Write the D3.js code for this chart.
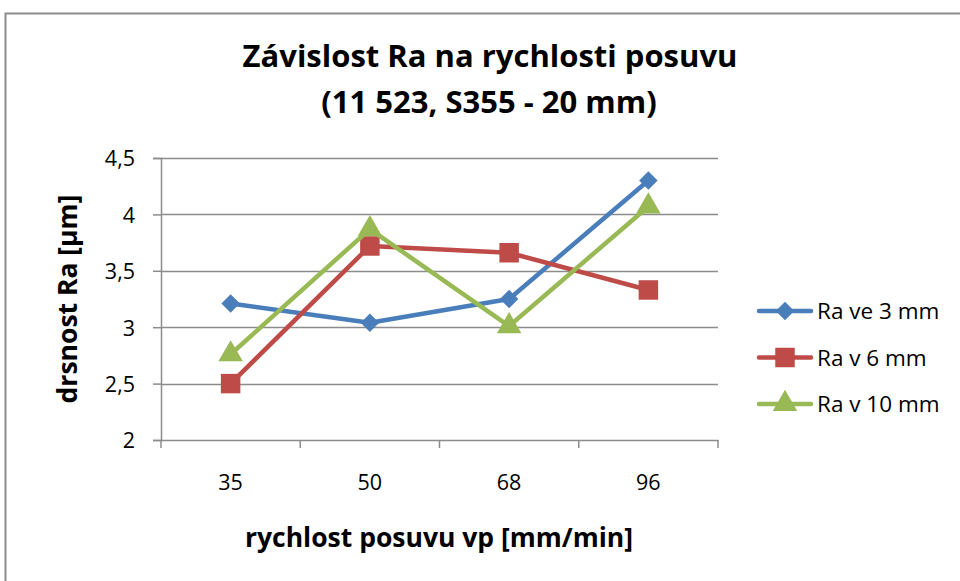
<!DOCTYPE html>
<html lang="cs">
<head>
<meta charset="utf-8">
<title>Závislost Ra na rychlosti posuvu</title>
<script src="https://cdn.jsdelivr.net/npm/d3@7"></script>
<style>
  body { margin: 0; background: #fff; }
  svg text { font-family: "Open Sans", Lato, sans-serif; }
</style>
</head>
<body>
<div id="chart"></div>
<script>
// data
var categories = ["35", "50", "68", "96"];
var seriesNames = ["Ra ve 3 mm", "Ra v 6 mm", "Ra v 10 mm"];
var ra3 = [3.21, 3.04, 3.25, 4.30];
var ra6 = [2.50, 3.72, 3.66, 3.33];
var ra10 = [2.76, 3.87, 3.01, 4.07];
var yTicks = [2, 2.5, 3, 3.5, 4, 4.5];

var W = 960, H = 581;
var margin = {top: 158, right: 242, bottom: 141, left: 161};
var width = W - margin.left - margin.right,
    height = H - margin.top - margin.bottom;

var colors = ["#4a7ebb", "#be4b48", "#98b954"];
var symbols = [d3.symbolSquare, d3.symbolSquare, d3.symbolTriangle];
var symSize = [170, 380, 260];
var symRot = [45, 0, 0];

var svg = d3.select("#chart").append("svg")
    .attr("width", W).attr("height", H);

// outer frame
svg.append("rect")
    .attr("x", 5.5).attr("y", 13.5)
    .attr("width", W).attr("height", H)
    .attr("fill", "none").attr("stroke", "#8c8c8c").attr("stroke-width", 2);

var chart = svg.append("g")
    .attr("transform", "translate(" + margin.left + "," + margin.top + ")");

var x = d3.scaleBand().domain(categories).range([0, width]);
var y = d3.scaleLinear().domain([2, 4.5]).range([height, 0]);

// gridlines
chart.append("g").selectAll("line")
    .data(yTicks.slice(1))
    .enter().append("line")
    .attr("x1", 0).attr("x2", width)
    .attr("y1", function(d) { return Math.round(y(d)) + 0.5; })
    .attr("y2", function(d) { return Math.round(y(d)) + 0.5; })
    .attr("stroke", "#8c8c8c").attr("stroke-width", 1.5);

var yAxis = d3.axisLeft(y).tickValues(yTicks).tickSize(8).tickPadding(18)
    .tickFormat(function(d) { return String(d).replace(".", ","); });
var gy = chart.append("g").attr("class", "y axis").call(yAxis);

var xAxis = d3.axisBottom(x).tickSize(0).tickPadding(50);
var gx = chart.append("g").attr("class", "x axis")
    .attr("transform", "translate(0," + height + ")").call(xAxis);

// category boundary ticks
gx.selectAll(".bound").data(d3.range(categories.length + 1))
    .enter().append("line").attr("class", "bound")
    .attr("x1", function(i) { return i * x.bandwidth(); })
    .attr("x2", function(i) { return i * x.bandwidth(); })
    .attr("y1", 0).attr("y2", 8)
    .attr("stroke", "#8c8c8c").attr("stroke-width", 1.5);

svg.selectAll(".axis .domain").attr("stroke", "#8c8c8c").attr("stroke-width", 1.5);
svg.selectAll(".axis .tick line").attr("stroke", "#8c8c8c").attr("stroke-width", 1.5);
svg.selectAll(".axis text").attr("font-size", 21.5).attr("fill", "#000");
gx.selectAll(".tick text").attr("dy", 0);
gy.selectAll(".tick text").attr("dy", "0.37em");

var allSeries = [ra3, ra6, ra10];
var line = d3.line()
    .x(function(d, i) { return x(categories[i]) + x.bandwidth() / 2; })
    .y(function(d) { return y(d); });

allSeries.forEach(function(vals, s) {
    chart.append("path").datum(vals)
        .attr("d", line)
        .attr("fill", "none")
        .attr("stroke", colors[s]).attr("stroke-width", 4.5)
        .attr("stroke-linejoin", "round").attr("stroke-linecap", "round");
    chart.selectAll(".m" + s).data(vals).enter().append("path")
        .attr("class", "m" + s)
        .attr("d", d3.symbol().type(symbols[s]).size(symSize[s]))
        .attr("transform", function(d, i) {
            return "translate(" + (x(categories[i]) + x.bandwidth() / 2) + "," + y(d) + ") rotate(" + symRot[s] + ")";
        })
        .attr("fill", colors[s]);
});

// titles
svg.append("text").attr("x", 490).attr("y", 67)
    .attr("text-anchor", "middle").attr("font-size", 31).attr("font-weight", "bold")
    .text("Závislost Ra na rychlosti posuvu");
svg.append("text").attr("x", 489).attr("y", 113)
    .attr("text-anchor", "middle").attr("font-size", 31).attr("font-weight", "bold")
    .text("(11 523, S355 - 20 mm)");

svg.append("text").attr("x", 439).attr("y", 547)
    .attr("text-anchor", "middle").attr("font-size", 26.5).attr("font-weight", "bold")
    .text("rychlost posuvu vp [mm/min]");

svg.append("text")
    .attr("transform", "translate(77," + (margin.top + height / 2) + ") rotate(-90)")
    .attr("text-anchor", "middle").attr("font-size", 26.5).attr("font-weight", "bold")
    .text("drsnost Ra [µm]");

// legend
var legend = svg.append("g");
seriesNames.forEach(function(name, s) {
    var ly = 311 + s * 46.5;
    legend.append("line").attr("x1", 759).attr("x2", 811)
        .attr("y1", ly).attr("y2", ly)
        .attr("stroke", colors[s]).attr("stroke-width", 4.5).attr("stroke-linecap", "round");
    legend.append("path")
        .attr("d", d3.symbol().type(symbols[s]).size(symSize[s]))
        .attr("transform", "translate(785," + ly + ") rotate(" + symRot[s] + ")")
        .attr("fill", colors[s]);
    legend.append("text").attr("x", 817).attr("y", ly + 8)
        .attr("font-size", 22.5).text(name);
});
</script>
</body>
</html>
